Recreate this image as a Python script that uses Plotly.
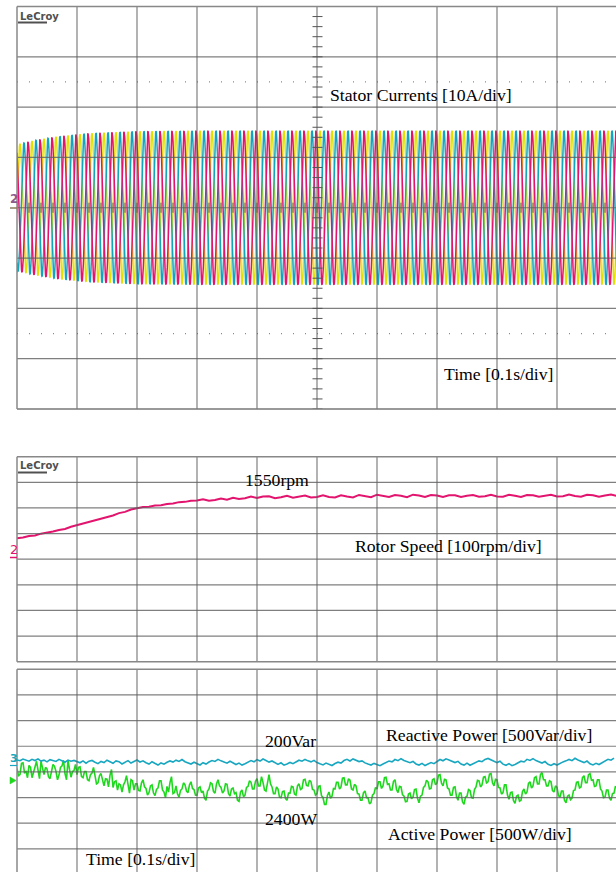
import numpy as np
import plotly.graph_objects as go

W, H = 616, 872
def X(px):
    return px / W
def Y(py):
    return 1 - py / H

# ---------------- data ----------------
# time base: 0.1 s/div, 10 divisions
time_divs = [0.1, 0.2, 0.3, 0.4, 0.5, 0.6, 0.7, 0.8, 0.9]

stator_freq_hz = 50.0
env_t = [0.0, 0.03, 0.07, 0.12, 0.2, 0.3, 1.0]
env_amp = [12.6, 13.4, 14.2, 14.8, 15.2, 15.3, 15.3]
phase_shift_deg = [0, -120, 120]
phase_colors = ["#e6df00", "#12a6ba", "#e3136f"]

# Rotor speed [rpm], one value every 0.01 s
speed_rpm = [
    1389, 1392, 1398, 1400, 1407, 1410, 1415, 1421, 1425, 1434,
    1440, 1448, 1452, 1460, 1464, 1473, 1478, 1487, 1492, 1501,
    1506, 1511, 1512, 1517, 1518, 1523, 1525, 1530, 1531, 1535,
    1536, 1541, 1535, 1538, 1544, 1539, 1547, 1542, 1545, 1552,
    1546, 1552, 1553, 1545, 1549, 1555, 1547, 1551, 1556, 1548,
    1550, 1557, 1550, 1548, 1557, 1552, 1548, 1558, 1553, 1549,
    1559, 1553, 1550, 1558, 1555, 1549, 1559, 1556, 1550, 1558,
    1556, 1550, 1557, 1557, 1550, 1555, 1558, 1551, 1553, 1559,
    1552, 1551, 1559, 1555, 1550, 1558, 1557, 1551, 1556, 1559,
    1552, 1553, 1560, 1554, 1551, 1559, 1557, 1551, 1556, 1560,
    1554,
]

# Reactive power [Var], one value every 0.005 s
reactive_var = [
    250, 235, 268, 242, 225, 262, 238, 270, 228, 246, 212, 255, 236, 220, 262, 231, 205, 248, 226, 240,
    218, 195, 232, 186, 226, 240, 205, 178, 220, 198, 245, 212, 185, 230, 215, 172, 205, 236, 190, 224,
    248, 210, 232, 195, 170, 215, 186, 150, 192, 168, 205, 230, 208, 246, 222, 258, 215, 190, 170, 205,
    182, 152, 196, 170, 210, 238, 220, 262, 232, 210, 186, 225, 198, 160, 188, 150, 176, 205, 238, 214,
    256, 228, 268, 240, 208, 230, 190, 162, 195, 148, 172, 200, 176, 215, 245, 226, 260, 232, 212, 242,
    198, 174, 152, 188, 160, 142, 180, 206, 190, 238, 262, 230, 270, 244, 218, 232, 192, 170, 150, 182,
    160, 138, 172, 205, 228, 212, 258, 236, 274, 240, 218, 196, 220, 172, 150, 182, 140, 165, 200, 178,
    226, 258, 234, 272, 250, 226, 198, 222, 170, 150, 188, 146, 172, 208, 232, 215, 260, 280, 246, 226,
    198, 224, 168, 145, 178, 138, 162, 200, 225, 210, 262, 240, 276, 238, 214, 190, 218, 164, 142, 176,
    150, 184, 212, 232, 260, 236, 282, 250, 222, 198, 228, 176, 152, 184, 160, 196, 230, 262, 244, 286,
]

# Active power [W], one value every 0.0025 s
active_w = [
    2820, 2680, 2700, 2920, 2930, 2740, 2760, 2640, 2880, 2840, 2640, 2780, 2850, 2960, 2780, 2620, 2960, 2820, 2700, 2840,
    2810, 2660, 2620, 2760, 2900, 2860, 2760, 2600, 2690, 2840, 2870, 2980, 2720, 2600, 2980, 2800, 2650, 2760, 2780, 2900,
    2700, 2840, 2850, 2660, 2640, 2760, 2760, 2600, 2580, 2700, 2730, 2840, 2660, 2520, 2540, 2680, 2720, 2580, 2480, 2620,
    2610, 2460, 2690, 2800, 2450, 2560, 2580, 2400, 2520, 2500, 2360, 2500, 2560, 2680, 2470, 2340, 2600, 2580, 2400, 2520,
    2520, 2390, 2380, 2540, 2600, 2460, 2430, 2300, 2350, 2480, 2500, 2340, 2290, 2410, 2440, 2580, 2580, 2400, 2360, 2250,
    2470, 2360, 2550, 2660, 2330, 2350, 2480, 2320, 2260, 2390, 2420, 2540, 2500, 2380, 2350, 2500, 2560, 2430, 2410, 2300,
    2300, 2440, 2460, 2350, 2380, 2240, 2200, 2380, 2420, 2540, 2520, 2370, 2340, 2520, 2600, 2480, 2450, 2340, 2380, 2520,
    2510, 2330, 2280, 2420, 2440, 2330, 2350, 2200, 2180, 2360, 2400, 2270, 2300, 2450, 2470, 2580, 2550, 2420, 2420, 2570,
    2620, 2480, 2480, 2660, 2550, 2400, 2380, 2580, 2700, 2520, 2460, 2330, 2330, 2460, 2420, 2260, 2250, 2370, 2380, 2230,
    2200, 2340, 2340, 2470, 2460, 2320, 2300, 2480, 2520, 2410, 2430, 2600, 2610, 2490, 2480, 2590, 2560, 2410, 2400, 2300,
    2330, 2470, 2480, 2290, 2250, 2120, 2120, 2300, 2360, 2240, 2280, 2430, 2420, 2550, 2550, 2420, 2460, 2630, 2640, 2500,
    2500, 2620, 2590, 2420, 2400, 2510, 2480, 2330, 2320, 2200, 2200, 2350, 2380, 2250, 2250, 2130, 2160, 2300, 2330, 2450,
    2420, 2560, 2560, 2430, 2480, 2640, 2650, 2510, 2520, 2400, 2400, 2570, 2600, 2410, 2350, 2470, 2460, 2310, 2280, 2170,
    2180, 2320, 2340, 2230, 2260, 2410, 2420, 2240, 2150, 2280, 2300, 2450, 2480, 2590, 2560, 2420, 2430, 2600, 2620, 2500,
    2540, 2690, 2700, 2530, 2480, 2610, 2600, 2440, 2420, 2300, 2300, 2450, 2460, 2270, 2200, 2340, 2340, 2170, 2120, 2260,
    2280, 2410, 2390, 2250, 2240, 2410, 2460, 2590, 2580, 2460, 2500, 2650, 2660, 2540, 2560, 2710, 2720, 2540, 2480, 2610,
    2600, 2450, 2440, 2320, 2350, 2500, 2500, 2300, 2220, 2350, 2360, 2190, 2140, 2280, 2300, 2180, 2200, 2370, 2420, 2320,
    2360, 2530, 2560, 2440, 2480, 2640, 2660, 2520, 2520, 2700, 2740, 2600, 2600, 2480, 2480, 2580, 2560, 2390, 2360, 2480,
    2450, 2290, 2260, 2380, 2380, 2200, 2150, 2280, 2300, 2210, 2240, 2390, 2400, 2550, 2560, 2440, 2460, 2640, 2680, 2540,
    2540, 2700, 2720, 2590, 2600, 2470, 2480, 2600, 2600, 2420, 2380, 2250, 2260, 2400, 2400, 2240, 2200, 2330, 2340, 2480,
]

labels = {
    "stator": "Stator Currents [10A/div]",
    "time": "Time [0.1s/div]",
    "rpm": "1550rpm",
    "speed": "Rotor Speed [100rpm/div]",
    "var": "200Var",
    "reactive": "Reactive Power [500Var/div]",
    "watt": "2400W",
    "active": "Active Power [500W/div]",
}

# ---------------- geometry (pixels of the screen grid) ----------------
XL = 17.0                  # left edge of grids
T_END = (W - XL) / 600.0   # visible time span (60 px per 0.1 s)

TOP_Y0, TOP_Y1 = 6.5, 409.0
SPD_Y0, SPD_Y1 = 456.7, 661.7
PWR_Y0, PWR_PXDIV = 669.3, 25.65

spd_per_px = 100.0 / ((SPD_Y1 - SPD_Y0) / 8)
spd_top = 1550 + (497 - SPD_Y0) * spd_per_px
spd_bot = 1550 - (SPD_Y1 - 497) * spd_per_px
p_per_px = 500.0 / PWR_PXDIV
p_top = 2400 + (790 - PWR_Y0) * p_per_px
p_bot = 2400 - (H - 790) * p_per_px
q_top = 200 + (762.5 - PWR_Y0) * p_per_px
q_bot = 200 - (H - 762.5) * p_per_px

fig = go.Figure()

# stator currents
t_cur = np.arange(0, 1.0, 0.0005)
amp = np.interp(t_cur, env_t, env_amp)
for sh, col in zip(phase_shift_deg, phase_colors):
    i = amp * np.sin(2 * np.pi * stator_freq_hz * t_cur + np.deg2rad(sh))
    fig.add_trace(go.Scatter(x=t_cur, y=i, mode="lines", line=dict(color=col, width=1.5),
                             xaxis="x", yaxis="y", hoverinfo="skip", showlegend=False))

# rotor speed
t_spd = np.arange(len(speed_rpm)) * 0.01
fig.add_trace(go.Scatter(x=t_spd, y=speed_rpm, mode="lines", line=dict(color="#e2146e", width=2),
                         xaxis="x2", yaxis="y2", hoverinfo="skip", showlegend=False))

# powers
t_q = np.arange(len(reactive_var)) * 0.005
t_p = np.arange(len(active_w)) * 0.0025
fig.add_trace(go.Scatter(x=t_p, y=active_w, mode="lines", line=dict(color="#1ed81e", width=1.6),
                         xaxis="x3", yaxis="y3", hoverinfo="skip", showlegend=False))
fig.add_trace(go.Scatter(x=t_q, y=reactive_var, mode="lines", line=dict(color="#17a7c0", width=1.6),
                         xaxis="x3", yaxis="y4", hoverinfo="skip", showlegend=False))

ax_common = dict(showgrid=False, zeroline=False, showticklabels=False, ticks="", showline=False, fixedrange=True)
fig.update_layout(
    width=W, height=H, margin=dict(l=0, r=0, t=0, b=0),
    paper_bgcolor="white", plot_bgcolor="white",
    xaxis=dict(domain=[X(XL), 1], range=[0, T_END], anchor="y", **ax_common),
    yaxis=dict(domain=[Y(TOP_Y1), Y(TOP_Y0)], range=[-40, 40], anchor="x", **ax_common),
    xaxis2=dict(domain=[X(XL), 1], range=[0, T_END], anchor="y2", **ax_common),
    yaxis2=dict(domain=[Y(SPD_Y1), Y(SPD_Y0)], range=[spd_bot, spd_top], anchor="x2", **ax_common),
    xaxis3=dict(domain=[X(XL), 1], range=[0, T_END], anchor="y3", **ax_common),
    yaxis3=dict(domain=[0, Y(PWR_Y0)], range=[p_bot, p_top], anchor="x3", **ax_common),
    yaxis4=dict(domain=[0, Y(PWR_Y0)], range=[q_bot, q_top], anchor="x3", overlaying="y3", **ax_common),
)

GRID = "rgba(95,95,95,0.8)"
shapes = []
def line(x0, y0, x1, y1, xref, yref, color=GRID, width=1.2, dash=None, layer="above"):
    d = dict(type="line", x0=x0, y0=y0, x1=x1, y1=y1, xref=xref, yref=yref,
             line=dict(color=color, width=width), layer=layer)
    if dash:
        d["line"]["dash"] = dash
    shapes.append(d)

# ---- top panel grid ----
for t in time_divs:
    line(t, -40, t, 40, "x", "y")
for v in [-30, -20, -10, 0, 10, 20, 30]:
    line(0, v, 1.0, v, "x", "y")
for v in [-25, 25]:
    line(0, v, 1.0, v, "x", "y", color="#8a8a8a", width=1.3, dash="1px,11px", layer="below")
for v in np.arange(-40, 40.01, 2):
    line(X(312.5), v, X(322.5), v, "paper", "y", color="#555", width=1)
for t in np.arange(0, 1.0, 0.02):
    line(t, -1.0, t, 1.0, "x", "y", color="#555", width=1)
line(X(XL), Y(TOP_Y0), 1, Y(TOP_Y0), "paper", "paper", color="#888", width=1.5)
line(X(XL), Y(TOP_Y1), 1, Y(TOP_Y1), "paper", "paper", color="#777", width=1.5)
line(X(XL), Y(TOP_Y0), X(XL), Y(TOP_Y1), "paper", "paper", color="#888", width=1.5)

# ---- speed panel grid ----
for t in time_divs:
    line(t, spd_bot, t, spd_top, "x2", "y2")
for k in range(1, 8):
    v = spd_bot + k * 100
    line(0, v, 1.0, v, "x2", "y2")
line(X(XL), Y(SPD_Y0), 1, Y(SPD_Y0), "paper", "paper", color="#888", width=1.5)
line(X(XL), Y(SPD_Y1), 1, Y(SPD_Y1), "paper", "paper", color="#888", width=1.5)
line(X(XL), Y(SPD_Y0), X(XL), Y(SPD_Y1), "paper", "paper", color="#888", width=1.5)

# ---- power panel grid ----
for t in time_divs:
    line(t, p_bot, t, p_top, "x3", "y3")
for k in range(1, 8):
    v = p_top - k * 500
    line(0, v, 1.0, v, "x3", "y3")
line(X(XL), Y(PWR_Y0), 1, Y(PWR_Y0), "paper", "paper", color="#888", width=1.5)
line(X(XL), Y(PWR_Y0), X(XL), 0, "paper", "paper", color="#888", width=1.5)

# logo underlines and channel markers
line(X(18), Y(22.5), X(47), Y(22.5), "paper", "paper", color="#505050", width=2)
line(X(18), Y(472.5), X(47), Y(472.5), "paper", "paper", color="#505050", width=2)
line(X(10), Y(208), X(17), Y(208), "paper", "paper", color="#8a7a5a", width=1.5)
line(X(10), Y(557.5), X(17), Y(557.5), "paper", "paper", color="#e2146e", width=1.5)
line(X(10), Y(765.5), X(17), Y(765.5), "paper", "paper", color="#17a7c0", width=1.2)
shapes.append(dict(type="path", xref="paper", yref="paper",
                   path=f"M {X(10)} {Y(777)} L {X(16)} {Y(780.5)} L {X(10)} {Y(784)} Z",
                   fillcolor="#1ed81e", line=dict(color="#1ed81e", width=0.5), layer="above"))

fig.update_layout(shapes=shapes)

SERIF = "Liberation Serif, Times New Roman, serif"
ann = []
def text(s, px, py, size=17.7, color="black", family=SERIF, xanchor="left"):
    ann.append(dict(text=s, x=X(px), y=Y(py), xref="paper", yref="paper", showarrow=False,
                    xanchor=xanchor, yanchor="middle", font=dict(family=family, size=size, color=color)))

text(labels["stator"], 328, 95)
text(labels["time"], 441.5, 373.5)
text(labels["rpm"], 243, 480)
text(labels["speed"], 352.5, 546)
text(labels["var"], 262.5, 740.5)
text(labels["reactive"], 384, 734.5)
text(labels["watt"], 263, 818.5)
text(labels["active"], 386, 834)
text(labels["time"], 84, 859)

text("<b>LeCroy</b>", 17.5, 16, size=10, color="#505050", family="DejaVu Sans")
text("<b>LeCroy</b>", 17.5, 466, size=10, color="#505050", family="DejaVu Sans")
text("<b>2</b>", 13.5, 199, size=12, color="#8c5a8c", family="DejaVu Sans", xanchor="center")
text("2", 13.5, 549.5, size=13, color="#e2146e", family="DejaVu Sans", xanchor="center")
text("<b>3</b>", 13.5, 758, size=11, color="#17a7c0", family="DejaVu Sans", xanchor="center")
fig.update_layout(annotations=ann)

fig.write_html("out.html", config={"displayModeBar": False})
